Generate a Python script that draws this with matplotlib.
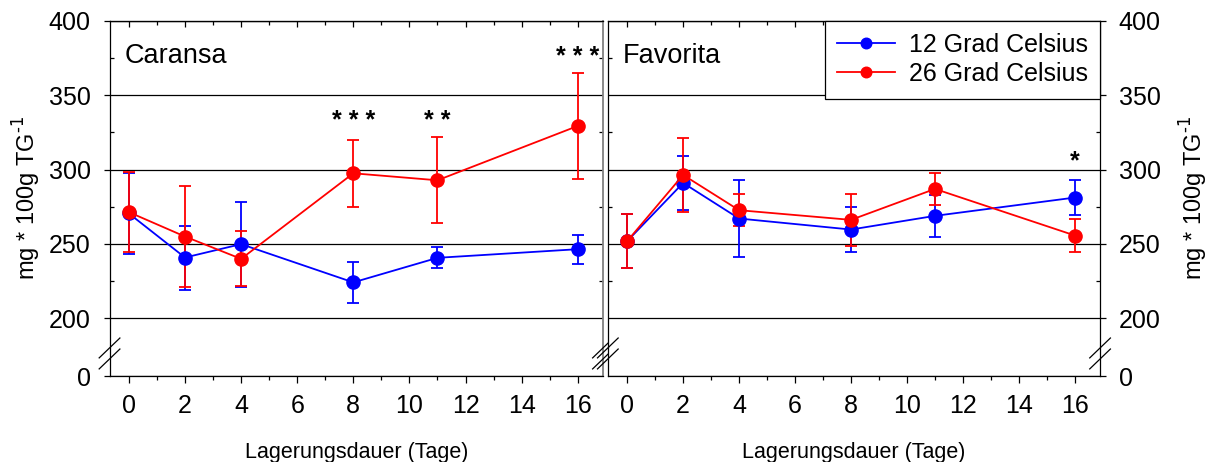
import numpy as np
import matplotlib.pyplot as plt
from matplotlib.ticker import FixedLocator

plt.rcParams['font.family'] = ['Liberation Sans', 'DejaVu Sans']

days = [0, 2, 4, 8, 11, 16]
xticks = [0, 2, 4, 6, 8, 10, 12, 14, 16]
yticks = [0, 200, 250, 300, 350, 400]

caransa_12 = [270.5, 240.9, 249.9, 224.2, 240.7, 246.5]
caransa_12_err = [27.0, 21.5, 28.5, 13.8, 7.0, 9.8]
caransa_26 = [271.4, 255.0, 240.0, 297.5, 292.8, 329.3]
caransa_26_err = [26.8, 34.0, 18.5, 22.6, 29.0, 35.5]

favorita_12 = [251.9, 291.0, 267.1, 259.7, 268.9, 281.2]
favorita_12_err = [18.0, 18.0, 26.0, 15.0, 14.0, 11.7]
favorita_26 = [251.9, 296.4, 272.7, 266.2, 287.0, 255.7]
favorita_26_err = [18.3, 25.0, 10.7, 17.5, 11.0, 11.4]

# significance marks (baseline positions)
caransa_sig_x = [8, 11, 16]
caransa_sig_y = [328, 328, 371]
caransa_sig = ['* * *', '* *', '* * *']
favorita_sig_x = [16]
favorita_sig_y = [301]
favorita_sig = ['*']

# broken axis: 0..200 squeezed
K = 0.1936
def fwd(v):
    v = np.asarray(v, dtype=float)
    return np.where(v >= 200, v, 200 - (200 - v) * K)

def inv(t):
    t = np.asarray(t, dtype=float)
    return np.where(t >= 200, t, 200 - (200 - t) / K)

fig = plt.figure(figsize=(12.13, 4.62), dpi=100)
ax1 = fig.add_axes([0.0903, 0.1861, 0.4068, 0.7690])
ax2 = fig.add_axes([0.5011, 0.1861, 0.4058, 0.7690])

ylab = r'mg * 100g TG$^{\text{-1}}$'

def draw_break(ax, x):
    for yc in (0.079, 0.048):
        ax.plot([x - 0.021, x + 0.021], [yc - 0.028, yc + 0.028], color='black',
                lw=0.9, transform=ax.transAxes, clip_on=False, zorder=10)

def setup(ax, name, right):
    ax.set_yscale('function', functions=(fwd, inv))
    ax.set_ylim(0, 400)
    ax.set_xlim(-0.69, 16.9)
    ax.set_xticks(xticks)
    ax.xaxis.set_minor_locator(FixedLocator([1, 3, 5, 7, 9, 11, 13, 15]))
    ax.set_yticks(yticks)
    ax.yaxis.set_minor_locator(FixedLocator([225, 275, 325, 375]))
    ax.yaxis.grid(True, color='black', lw=0.9)
    ax.set_axisbelow(True)
    ax.tick_params(axis='x', which='major', direction='out', length=5, width=0.9,
                   labelsize=18, pad=8)
    ax.tick_params(axis='x', which='minor', direction='out', length=3, width=0.9)
    ax.tick_params(axis='y', which='minor', direction='in', length=3, width=0.9,
                   left=True, right=True)
    if right:
        ax.yaxis.tick_right()
        ax.yaxis.set_label_position('right')
        ax.tick_params(axis='y', which='major', direction='out', length=4.5, width=0.9,
                       labelsize=18, pad=9, left=False, right=True)
        ax.tick_params(axis='y', which='minor', left=True, right=True)
        ax.set_ylabel(ylab, fontsize=17, labelpad=12)
    else:
        ax.tick_params(axis='y', which='major', direction='out', length=4.5, width=0.9,
                       labelsize=18, pad=9, left=True, right=False)
        ax.set_ylabel(ylab, fontsize=17, labelpad=4)
    top = ax.secondary_xaxis('top')
    top.set_xticks(xticks)
    top.xaxis.set_minor_locator(FixedLocator([1, 3, 5, 7, 9, 11, 13, 15]))
    top.tick_params(which='major', direction='in', length=4.5, width=0.9, labeltop=False)
    top.tick_params(which='minor', direction='in', length=3, width=0.9)
    for s in ax.spines.values():
        s.set_linewidth(0.9)
    ax.set_xlabel('Lagerungsdauer (Tage)', fontsize=15.5, labelpad=17)
    ax.text(0.031, 0.881, name, transform=ax.transAxes, fontsize=19.5,
            ha='left', va='baseline')

setup(ax1, 'Caransa', False)
setup(ax2, 'Favorita', True)
ax1.spines['right'].set_color('#808080')
ax1.spines['right'].set_linewidth(1.3)

kw = dict(marker='o', markersize=9.5, lw=1.3, capsize=4.3, elinewidth=1.3, capthick=1.3)
ax1.errorbar(days, caransa_12, yerr=caransa_12_err, color='#0000ff', **kw)
ax1.errorbar(days, caransa_26, yerr=caransa_26_err, color='#ff0000', **kw)
h12 = ax2.errorbar(days, favorita_12, yerr=favorita_12_err, color='#0000ff', **kw)
h26 = ax2.errorbar(days, favorita_26, yerr=favorita_26_err, color='#ff0000', **kw)

for x, y, s in zip(caransa_sig_x, caransa_sig_y, caransa_sig):
    ax1.text(x, y, s, fontsize=18, fontweight='bold', ha='center', va='baseline')
for x, y, s in zip(favorita_sig_x, favorita_sig_y, favorita_sig):
    ax2.text(x, y, s, fontsize=18, fontweight='bold', ha='center', va='baseline')

leg = ax2.legend([h12[0], h26[0]], ['12 Grad Celsius', '26 Grad Celsius'],
                 loc='upper right', bbox_to_anchor=(1, 1), borderaxespad=0,
                 fontsize=18, fancybox=False, framealpha=1, edgecolor='black',
                 handlelength=2.3, handletextpad=0.56, borderpad=0.5,
                 labelspacing=0.2, markerscale=0.8)
leg.get_frame().set_linewidth(0.9)

draw_break(ax1, 0)
draw_break(ax1, 1)
draw_break(ax2, 0)
draw_break(ax2, 1)

fig.savefig('out.png', dpi=100)
